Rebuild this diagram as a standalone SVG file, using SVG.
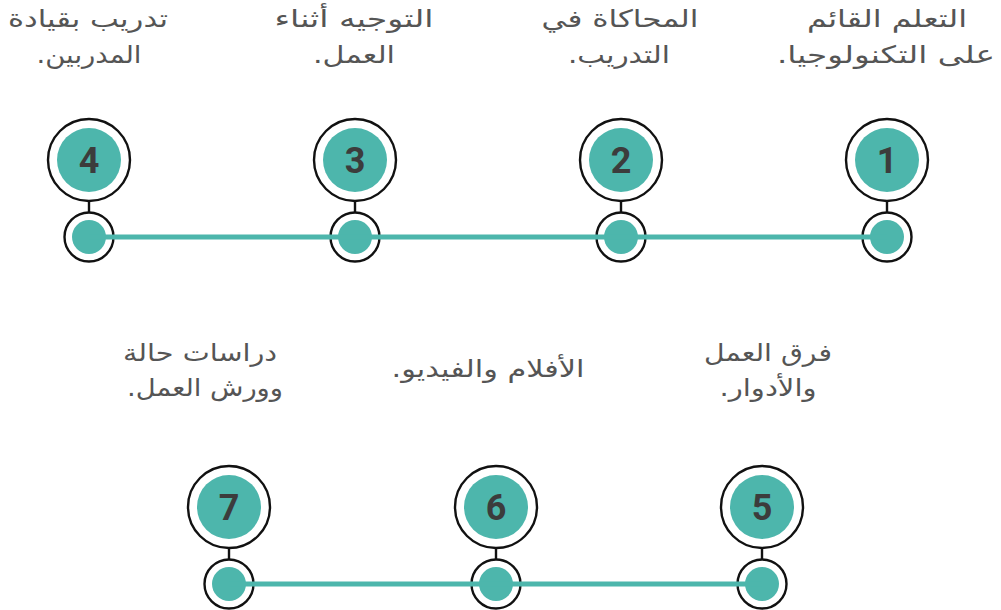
<svg xmlns="http://www.w3.org/2000/svg" width="1001" height="610" viewBox="0 0 1001 610">
<style>
.ring{fill:#fff;stroke:#111;stroke-width:2.4}
.fill{fill:#4db6ac}
.stem{stroke:#111;stroke-width:2.4}
.line{stroke:#4db6ac;stroke-width:5;fill:none}
.num{font-family:Roboto,"Liberation Sans",sans-serif;font-weight:bold;font-size:36px;fill:#3c3c3c;text-anchor:middle}
.lbl{font-family:"DejaVu Sans","Noto Sans",sans-serif;font-size:24px;fill:#555;text-anchor:middle}
</style>
<rect width="1001" height="610" fill="#fff"/>
<g id="node1">
<line class="stem" x1="887" y1="201" x2="887" y2="213"/>
<circle class="ring" cx="887" cy="160" r="41"/><circle class="fill" cx="887" cy="160" r="32"/>
<text class="num" x="887" y="173">1</text>
<circle class="ring" cx="887" cy="237" r="24.5"/><circle class="fill" cx="887" cy="237" r="17"/>
<text class="lbl" direction="rtl" x="887" y="27" textLength="160" lengthAdjust="spacingAndGlyphs">التعلم القائم</text>
<text class="lbl" direction="rtl" x="886" y="63" textLength="218" lengthAdjust="spacingAndGlyphs">على التكنولوجيا.</text>
</g>
<g id="node2">
<line class="stem" x1="621" y1="201" x2="621" y2="213"/>
<circle class="ring" cx="621" cy="160" r="41"/><circle class="fill" cx="621" cy="160" r="32"/>
<text class="num" x="621" y="173">2</text>
<circle class="ring" cx="621" cy="237" r="24.5"/><circle class="fill" cx="621" cy="237" r="17"/>
<text class="lbl" direction="rtl" x="620" y="27" textLength="157" lengthAdjust="spacingAndGlyphs">المحاكاة في</text>
<text class="lbl" direction="rtl" x="619" y="63" textLength="102" lengthAdjust="spacingAndGlyphs">التدريب.</text>
</g>
<g id="node3">
<line class="stem" x1="355" y1="201" x2="355" y2="213"/>
<circle class="ring" cx="355" cy="160" r="41"/><circle class="fill" cx="355" cy="160" r="32"/>
<text class="num" x="355" y="173">3</text>
<circle class="ring" cx="355" cy="237" r="24.5"/><circle class="fill" cx="355" cy="237" r="17"/>
<text class="lbl" direction="rtl" x="354" y="27" textLength="159" lengthAdjust="spacingAndGlyphs">التوجيه أثناء</text>
<text class="lbl" direction="rtl" x="354" y="63" textLength="82" lengthAdjust="spacingAndGlyphs">العمل.</text>
</g>
<g id="node4">
<line class="stem" x1="89" y1="201" x2="89" y2="213"/>
<circle class="ring" cx="89" cy="160" r="41"/><circle class="fill" cx="89" cy="160" r="32"/>
<text class="num" x="89" y="173">4</text>
<circle class="ring" cx="89" cy="237" r="24.5"/><circle class="fill" cx="89" cy="237" r="17"/>
<text class="lbl" direction="rtl" x="88" y="27" textLength="160" lengthAdjust="spacingAndGlyphs">تدريب بقيادة</text>
<text class="lbl" direction="rtl" x="89" y="63" textLength="105" lengthAdjust="spacingAndGlyphs">المدربين.</text>
</g>
<g id="node5">
<line class="stem" x1="762" y1="548" x2="762" y2="560"/>
<circle class="ring" cx="762" cy="507" r="41"/><circle class="fill" cx="762" cy="507" r="32"/>
<text class="num" x="762" y="520">5</text>
<circle class="ring" cx="762" cy="584" r="24.5"/><circle class="fill" cx="762" cy="584" r="17"/>
<text class="lbl" direction="rtl" x="768" y="361" textLength="128" lengthAdjust="spacingAndGlyphs">فرق العمل</text>
<text class="lbl" direction="rtl" x="768" y="396" textLength="97" lengthAdjust="spacingAndGlyphs">والأدوار.</text>
</g>
<g id="node6">
<line class="stem" x1="496" y1="548" x2="496" y2="560"/>
<circle class="ring" cx="496" cy="507" r="41"/><circle class="fill" cx="496" cy="507" r="32"/>
<text class="num" x="496" y="520">6</text>
<circle class="ring" cx="496" cy="584" r="24.5"/><circle class="fill" cx="496" cy="584" r="17"/>
<text class="lbl" direction="rtl" x="488" y="377" textLength="193" lengthAdjust="spacingAndGlyphs">الأفلام والفيديو.</text>
</g>
<g id="node7">
<line class="stem" x1="229" y1="548" x2="229" y2="560"/>
<circle class="ring" cx="229" cy="507" r="41"/><circle class="fill" cx="229" cy="507" r="32"/>
<text class="num" x="229" y="520">7</text>
<circle class="ring" cx="229" cy="584" r="24.5"/><circle class="fill" cx="229" cy="584" r="17"/>
<text class="lbl" direction="rtl" x="200" y="361" textLength="154" lengthAdjust="spacingAndGlyphs">دراسات حالة</text>
<text class="lbl" direction="rtl" x="205" y="396" textLength="156" lengthAdjust="spacingAndGlyphs">وورش العمل.</text>
</g>
<g id="connectors">
<line class="line" x1="89" y1="237" x2="887" y2="237"/>
<line class="line" x1="229" y1="584" x2="762" y2="584"/>
</g>
</svg>
